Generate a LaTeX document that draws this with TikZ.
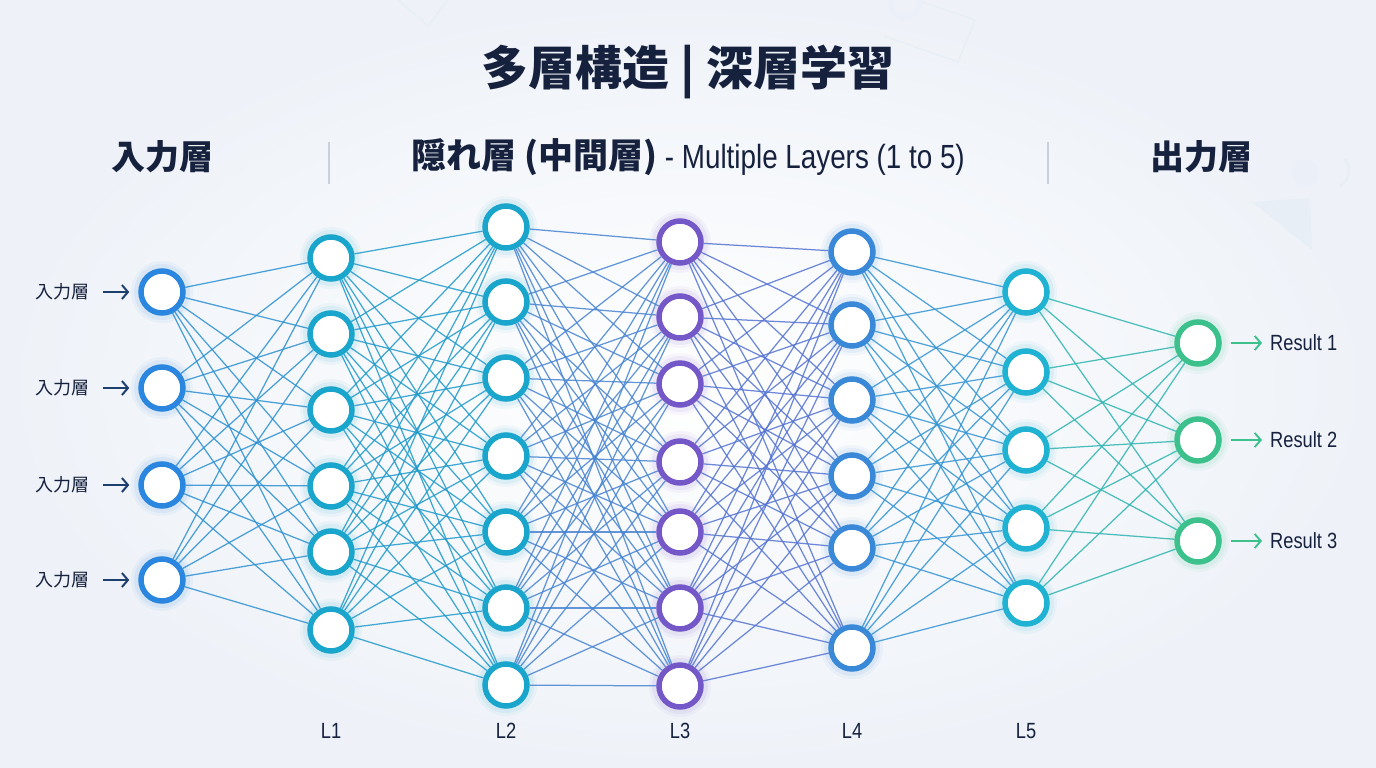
\documentclass[tikz,border=0pt]{standalone}
\usepackage{fontspec}
\setmainfont{Liberation Sans}
\newfontfamily\cjk{Noto Sans CJK JP}
\newfontfamily\narrow{Liberation Sans}[FakeStretch=0.83]
\usetikzlibrary{arrows.meta}
\definecolor{navy}{HTML}{16213E}
\definecolor{cIn}{HTML}{2A86DE}
\definecolor{cLa}{HTML}{1AA6CC}
\definecolor{cLb}{HTML}{1AA6CC}
\definecolor{cLc}{HTML}{7558C8}
\definecolor{cLd}{HTML}{3A88D8}
\definecolor{cLe}{HTML}{20B2D2}
\definecolor{cOut}{HTML}{3CC08C}
\definecolor{eA}{HTML}{2C90D2}
\definecolor{eB}{HTML}{1F9ACB}
\definecolor{eC}{HTML}{4784D2}
\definecolor{eD}{HTML}{5574D2}
\definecolor{eE}{HTML}{3394D4}
\definecolor{eF}{HTML}{2EB5B0}
\definecolor{bgout}{HTML}{EEF2F8}
\definecolor{sepc}{HTML}{C9D0DA}
\definecolor{deco}{HTML}{D6E2F0}
\tikzset{
  neuron/.style={circle, draw=#1, line width=5.5pt, fill=white, minimum size=42pt, inner sep=0pt},
  edge/.style={draw=#1, line width=1.25pt, opacity=0.85},
  glowA/.style={fill=#1, opacity=0.05},
  glowB/.style={fill=#1, opacity=0.08},
  lbl/.style={inner sep=0pt, text=navy},
  inarrow/.style={draw=navy!70!cIn, line width=2pt, -{Straight Barb[length=6pt,width=14pt]}, shorten <=13pt, shorten >=9pt},
  outarrow/.style={draw=cOut, line width=1.9pt, -{Straight Barb[length=6pt,width=14pt]}, shorten <=9pt, shorten >=8pt},
}
\begin{document}
\begin{tikzpicture}[x=1pt,y=-1pt]
\useasboundingbox (0,0) rectangle (1376,768);
\shade[inner color=white, outer color=bgout] (0,0) rectangle (1376,768);
% faint decorative shapes
\draw[deco!60, line width=1.5pt] (398,0) -- (428,26) -- (448,0);
\draw[deco!60, line width=1.5pt] (902,-5) -- (975,20) -- (958,62) -- (884,36);
\draw[deco!50, line width=5pt] (905,4) circle (14);
\fill[deco!60] (1252,202) -- (1310,198) -- (1312,250) -- cycle;
\fill[deco!50] (1305,173) circle (14);
\draw[deco!60, line width=3pt] (1340,186) arc (60:-40:18);
% title
\node[lbl] (title) at (688,72) {\cjk\bfseries\fontsize{47}{52}\selectfont 多層構造 | 深層学習};
% headers
\node[lbl] (hin) at (162,157) {\cjk\bfseries\fontsize{34}{38}\selectfont 入力層};
\node[lbl] (hmid) at (688,157) {\cjk\bfseries\fontsize{35}{38}\selectfont 隠れ層 (中間層)\narrow\mdseries\fontsize{33.5}{38}\selectfont\ - Multiple Layers (1 to 5)};
\node[lbl] (hout) at (1201,157) {\cjk\bfseries\fontsize{34}{38}\selectfont 出力層};
\coordinate (s1a) at (329,142); \coordinate (s1b) at (329,184);
\coordinate (s2a) at (1048,142); \coordinate (s2b) at (1048,184);
\draw[sepc, line width=1.2pt] (s1a) -- (s1b);
\draw[sepc, line width=1.2pt] (s2a) -- (s2b);
% glows
\foreach \y in {292,388,485,580} {\fill[glowA=cIn] (162,\y) circle (31); \fill[glowB=cIn] (162,\y) circle (28);}
\foreach \y in {258,334,410,486,552,630} {\fill[glowA=cLa] (331,\y) circle (31); \fill[glowB=cLa] (331,\y) circle (28);}
\foreach \y in {227,302,378,456,532,608,685} {\fill[glowA=cLb] (506,\y) circle (31); \fill[glowB=cLb] (506,\y) circle (28);}
\foreach \y in {242,317,384,462,532,608,686} {\fill[glowA=cLc] (680,\y) circle (31); \fill[glowB=cLc] (680,\y) circle (28);}
\foreach \y in {252,325,400,476,548,648} {\fill[glowA=cLd] (852,\y) circle (31); \fill[glowB=cLd] (852,\y) circle (28);}
\foreach \y in {292,372,450,528,603} {\fill[glowA=cLe] (1026,\y) circle (31); \fill[glowB=cLe] (1026,\y) circle (28);}
\foreach \y in {343,440,541} {\fill[glowA=cOut] (1198,\y) circle (31); \fill[glowB=cOut] (1198,\y) circle (28);}
% neurons
\foreach \y [count=\i] in {292,388,485,580} \node[neuron=cIn] (I\i) at (162,\y) {};
\foreach \y [count=\i] in {258,334,410,486,552,630} \node[neuron=cLa] (A\i) at (331,\y) {};
\foreach \y [count=\i] in {227,302,378,456,532,608,685} \node[neuron=cLb] (B\i) at (506,\y) {};
\foreach \y [count=\i] in {242,317,384,462,532,608,686} \node[neuron=cLc] (C\i) at (680,\y) {};
\foreach \y [count=\i] in {252,325,400,476,548,648} \node[neuron=cLd] (D\i) at (852,\y) {};
\foreach \y [count=\i] in {292,372,450,528,603} \node[neuron=cLe] (E\i) at (1026,\y) {};
\foreach \y [count=\i] in {343,440,541} \node[neuron=cOut] (O\i) at (1198,\y) {};
% edges
\foreach \i in {1,...,4} \foreach \j in {1,...,6} \draw[edge=eA] (I\i) -- (A\j);
\foreach \i in {1,...,6} \foreach \j in {1,...,7} \draw[edge=eB] (A\i) -- (B\j);
\foreach \i in {1,...,7} \foreach \j in {1,...,7} \draw[edge=eC] (B\i) -- (C\j);
\foreach \i in {1,...,7} \foreach \j in {1,...,6} \draw[edge=eD] (C\i) -- (D\j);
\foreach \i in {1,...,6} \foreach \j in {1,...,5} \draw[edge=eE] (D\i) -- (E\j);
\foreach \i in {1,...,5} \foreach \j in {1,...,3} \draw[edge=eF] (E\i) -- (O\j);
% input labels
\foreach \y [count=\i] in {292,388,485,580} {
  \node[lbl, anchor=east] (in\i) at (90,\y) {\cjk\fontsize{18}{20}\selectfont 入力層};
  \draw[inarrow] (in\i) -- (I\i);
}
% output labels
\foreach \y [count=\i] in {343,440,541} {
  \node[lbl, anchor=west] (R\i) at (1270,\y) {\narrow\fontsize{22}{26}\selectfont Result \i};
  \draw[outarrow] (O\i) -- (R\i);
}
% layer labels
\foreach \x [count=\i] in {331,506,680,852,1026}
  \node[lbl] (L\i) at (\x,731) {\narrow\fontsize{22}{26}\selectfont L\i};
\end{tikzpicture}
\end{document}
